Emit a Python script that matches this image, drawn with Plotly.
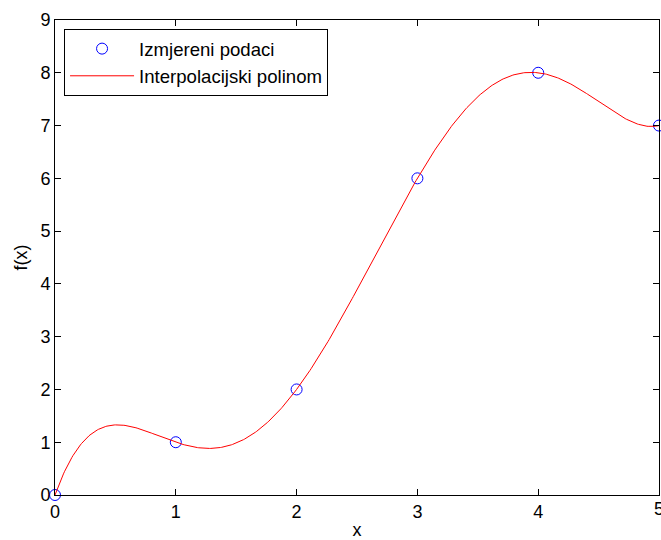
import numpy as np
import plotly.graph_objects as go

x_data = [0, 1, 2, 3, 4, 5]
y_data = [0, 1, 2, 6, 8, 7]
x_ticks = [0, 1, 2, 3, 4, 5]
y_ticks = [0, 1, 2, 3, 4, 5, 6, 7, 8, 9]

# interpolating polynomial through the measured points (degree 5)
coef = np.polyfit(x_data, y_data, len(x_data) - 1)
xs = np.linspace(0, 5, 501)
ys = np.polyval(coef, xs)

FONT = "Liberation Sans, Arial"
FS = 18

fig = go.Figure()
fig.add_trace(go.Scatter(x=x_data, y=y_data, mode="markers", name="Izmjereni podaci",
                         marker=dict(symbol="circle-open", size=11, color="blue", line=dict(width=1, color="blue")),
                         cliponaxis=False))
fig.add_trace(go.Scatter(x=xs, y=ys, mode="lines", name="Interpolacijski polinom",
                         line=dict(color="red", width=1)))

axis_common = dict(showgrid=False, zeroline=False, ticks="inside", ticklen=6, tickwidth=1,
                   tickcolor="black", showline=True, linecolor="black", linewidth=1, mirror="ticks",
                   automargin=False,
                   tickfont=dict(family=FONT, size=FS, color="black"))
fig.update_xaxes(range=[0, 5], tickvals=x_ticks,
                 title=dict(text="x", standoff=6, font=dict(family=FONT, size=FS, color="black")),
                 **axis_common)
fig.update_yaxes(range=[0, 9], tickvals=y_ticks,
                 title=dict(text="f(x)", standoff=8, font=dict(family=FONT, size=FS, color="black")),
                 **axis_common)

# last x tick label sits on the figure edge (partly cut, as in the original)
fig.add_annotation(x=x_ticks[-1], y=y_ticks[0], xref="x", yref="y", text=str(x_ticks[-1]),
                   showarrow=False, yanchor="top", yshift=-2,
                   font=dict(family=FONT, size=FS, color="black"))

fig.update_layout(
    width=661, height=540,
    margin=dict(l=55, r=2, t=20, b=45, autoexpand=False),
    plot_bgcolor="white", paper_bgcolor="white",
    font=dict(family=FONT, size=FS, color="black"),
    legend=dict(x=0.015, y=0.981, xanchor="left", yanchor="top", bordercolor="black", borderwidth=1,
                bgcolor="white", font=dict(size=18.6), itemwidth=64),
    showlegend=True,
)

fig.write_html("out.html", config={"displayModeBar": False},
               post_script="document.body.style.margin='0';document.body.style.padding='0';")
